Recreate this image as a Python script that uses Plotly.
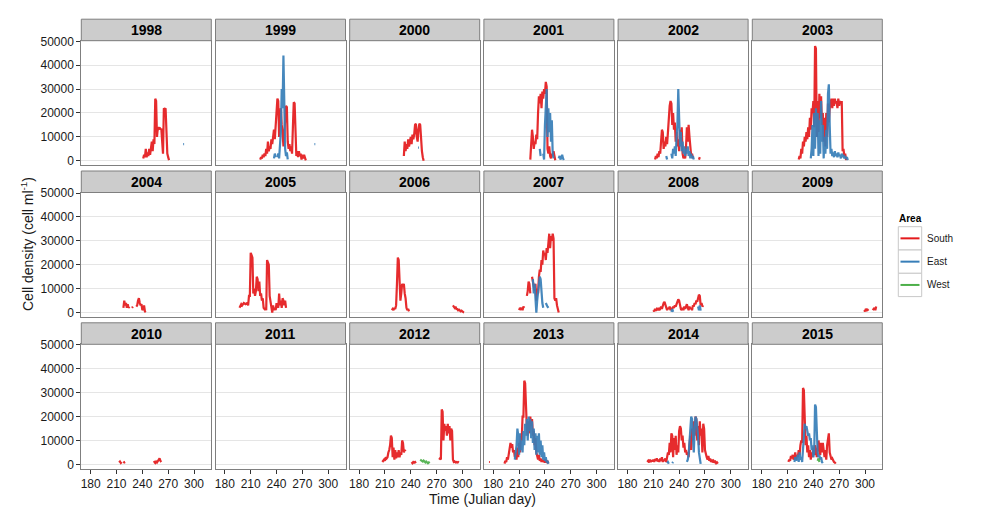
import plotly.graph_objects as go
from plotly.subplots import make_subplots

YEARS = list(range(1998, 2016))
AREAS = ["South", "East", "West"]
COLORS = {"South": "#E41A1C", "East": "#377EB8", "West": "#4DAF4A"}
X_TICKS = [180, 210, 240, 270, 300]
Y_TICKS = [0, 10000, 20000, 30000, 40000, 50000]
Y_TICK_TEXT = ["0", "10000", "20000", "30000", "40000", "50000"]

# ---- data: (Julian day, cells per ml); None = gap ----
SOUTH_1998 = [(241,1000),(242,2500),(243,1500),(244,5000),(245,1500),(246,3500),(247,2000),(248,5000),(249,2500),(250,4500),(251,8000),(252,4000),(253,9000),(254,7000),(255,26000),(256,25000),(257,10000),(258,14000),(259,13500),(260,14000),(261,13000),(262,13500),(263,6000),(264,3000),(265,22000),(266,21500),(267,22000),(268,6000),(269,3000),(270,1500),(271,300)]
EAST_1998 = [(287.5,7000),(288.5,7000)]

SOUTH_1999 = [(221,500),(222,1500),(223,1000),(224,2500),(225,1500),(226,3000),(227,2000),(228,5000),(229,3000),(230,8000),(231,4000),(232,6000),(233,5000),(234,9000),(235,7000),(236,12000),(237,13000),(238,9000),(239,14000),(240,20000),(241,26000),(242,25000),(243,10000),(244,18000),(245,22000),(246,15000),(247,12000),(248,6000),(249,10000),(250,17000),(251,23000),(252,22500),(253,8000),(254,5000),(255,7000),(256,4000),(257,6000),(258,3000),(259,14000),(260,24500),(261,24000),(262,6000),(263,2000),(264,4000),(265,1500),(266,4000),(267,2000),(268,3000),(269,500),(270,2500),(271,1000),(272,2500),(273,800),(274,200)]
EAST_1999 = [(237,1000),(238,3000),(239,1500),None,(241,1500),(242,3000),(243,1000),(244,6000),(245,12000),(246,30000),(247,22000),(248,44000),(249,18000),(250,5000),(251,2000),(252,3500),(253,600),None,(284,7000),(285,7000)]

SOUTH_2000 = [(232,2000),(233,8000),(234,4000),(235,7000),(236,5000),(237,9000),(238,6000),(239,8000),(240,10000),(241,7000),(242,11000),(243,9000),(244,11000),(245,15000),(246,15500),(247,10000),(248,8000),(249,13000),(250,15500),(251,15000),(252,8000),(253,4000),(254,1500),(255,0)]
EAST_2000 = [(248.5,5500),(249.5,5500)]

SOUTH_2001 = [(223,500),(224,5000),(225,13000),(226,10000),(227,5000),(228,8000),(229,7000),(230,11000),(231,9000),(232,20000),(233,27000),(234,24000),(235,28000),(236,22000),(237,29000),(238,26000),(239,30000),(240,28000),(241,33000),(242,31000),(243,5000),(244,3000),(245,6000),(246,2000),(247,1000),(248,3000),(249,2000),(250,4000),(251,1000),(252,200)]
EAST_2001 = [(234,5000),(235,2000),None,(238,3000),(239,500),(240,15000),(241,25000),(242,30000),(243,10000),(244,22000),(245,12000),(246,20000),(247,8000),(248,17000),(249,3000),(250,1000),None,(256,1000),(257,2000),(258,500),(259,1500),(260,2500),(261,1000),(262,300)]

SOUTH_2002 = [(212,500),(213,2000),(214,1000),(215,3000),(216,1500),(217,4000),(218,3000),(219,8000),(220,13000),(221,12000),(222,5000),(223,8000),(224,6000),(225,10000),(226,7000),(227,12000),(228,20000),(229,23000),(230,25000),(231,24000),(232,15000),(233,20000),(234,13000),(235,16000),(236,8000),(237,12000),(238,6000),(239,9000),(240,4000),(241,13000),(242,9000),(243,14000),(244,3000),(245,1000),(246,2000),(247,1000),(248,6000),(249,14000),(250,8000),(251,15000),(252,10000),(253,5000),(254,2000),(255,3000),(256,1000),None,(263,500),(264,1500)]
EAST_2002 = [(225,2000),(226,500),None,(231,3000),(232,1000),(233,5000),(234,3000),(235,6000),(236,2000),(237,10000),(238,15000),(239,30000),(240,20000),(241,6000),(242,12000),(243,4000),(244,8000),(245,3000),(246,6000),(247,2000),(248,5000),(249,3000),(250,6000),(251,2000),(252,4000),(253,1000),(254,3000),(255,1000),(256,2000),(257,500)]

SOUTH_2003 = [(223,500),(224,2000),(225,1000),(226,5000),(227,3000),(228,8000),(229,6000),(230,10000),(231,8000),(232,12000),(233,9000),(234,14000),(235,10000),(236,18000),(237,13000),(238,22000),(239,20000),(240,25000),(241,14000),(242,48000),(243,47000),(244,10000),(245,25000),(246,12000),(247,28000),(248,18000),(249,27000),(250,15000),(251,20000),(252,8000),(253,18000),(254,6000),(255,20000),(256,10000),(257,24000),(258,16000),(259,22000),(260,24000),(261,26000),(262,22000),(263,26000),(264,23000),(265,26000),(266,24000),(267,25000),(268,22000),(269,26000),(270,23000),(271,25000),(272,24000),(273,25000),(274,4000),(275,5000),(276,2000),(277,3000),(278,300)]
EAST_2003 = [(237,1000),(238,5000),(239,15000),(240,2000),(241,20000),(242,5000),(243,22000),(244,10000),(245,20000),(246,2000),(247,17000),(248,3000),(249,25000),(250,8000),(251,15000),(252,1000),(253,10000),(254,3000),(255,13000),(256,5000),(257,28000),(258,32000),(259,15000),(260,3000),(261,5000),(262,2000),(263,3500),(264,1500),(265,4000),(266,2000),(267,3000),(268,1500),(269,3500),(270,2000),(271,2500),(272,1000),(273,3000),(274,1500),(275,2500),(276,1000),(277,2000),(278,800),(279,1500),(280,300)]

SOUTH_2004 = [(218,2000),(219,5000),(220,3000),(221,4000),(222,2000),(223,3500),(224,2000),(225,2500),None,(228,2000),(229,2500),None,(233,2500),(234,3000),(235,5000),(236,6000),(237,4000),(238,3000),(239,3500),(240,1000),(241,1500),(242,3000),(243,500),(244,200)]

SOUTH_2005 = [(197,2000),(199,3500),(200,3000),(202,4000),(204,3500),(206,4000),(207,3000),(208,7000),(209,7000),(210,25000),(211,24000),(212,23000),(213,8000),(214,10000),(215,7000),(216,9000),(217,15000),(218,14000),(219,9000),(220,13000),(221,7000),(222,8000),(223,5000),(224,6000),(225,2000),(226,1500),(227,2000),(228,1000),(229,22000),(230,21000),(231,20000),(232,7000),(233,5000),(234,2000),(235,0),(236,3000),(237,1000),(238,2000),(239,1000),(240,4000),(241,3000),(242,2000),(243,8000),(244,3000),(245,5000),(246,2000),(247,6000),(248,5000),(249,3000),(250,5000),(251,2000)]

SOUTH_2006 = [(218,1000),(219,1500),(220,1000),(221,2000),(222,1500),(223,3000),(224,12000),(225,23000),(226,22000),(227,10000),(228,5000),(229,8000),(230,12000),(231,11000),(232,12000),(233,8000),(234,6000),(235,2000),(236,1000),(237,1500),(238,500),None,(289,3000),(290,2500),(291,2000),(292,2500),(293,1500),(294,1500),(295,1000),(296,1200),(297,800),(298,500),(299,800),(300,300),(301,200),(302,100)]

SOUTH_2007 = [(210,1000),(211,2000),(212,1500),(213,2000),(214,1000),(215,2500),(216,2000),None,(219,7000),(220,9000),(221,13000),(222,12000),(223,8000),None,(225,15000),(226,13000),(227,11000),(228,9000),(229,12000),(230,5000),(231,10000),(232,8000),(233,15000),(234,18000),(235,17000),(236,22000),(237,20000),(238,26000),(239,24000),(240,25000),(241,22000),(242,27000),(243,25000),(244,30000),(245,33000),(246,27000),(247,32000),(248,30000),(249,33000),(250,31000),(251,6000),(252,5000),(253,6000),(254,3000),(255,1000),(256,0)]
EAST_2007 = [(226,14000),(227,8000),(228,12000),(229,3000),(230,0),(231,5000),(232,8000),(233,10000),(234,15000),(235,14000),(236,7000),(237,4000),(238,2000),None,(241,4000),(242,3000),(243,2500),(244,2000)]

SOUTH_2008 = [(210,1000),(211,500),(212,1500),(213,800),(214,1500),(215,1000),(216,2000),(217,1000),(218,1500),(219,2500),(220,1500),(221,3000),(222,4000),(223,4500),(224,3000),(225,2000),(226,1000),(227,2000),(228,1500),(229,2500),(230,1000),(231,2000),(232,1500),(233,2500),(234,2000),(235,3000),(236,2500),(237,3500),(238,4500),(239,5500),(240,5000),(241,3000),(242,1500),(243,1000),(244,2000),(245,1000),(246,2500),(247,1500),(248,3000),(249,3500),(250,2000),(251,1000),(252,2500),(253,1500),(254,2000),(255,1000),(256,3000),(257,2500),(258,4000),(259,3500),(260,5000),(261,4500),(262,6000),(263,7500),(264,7000),(265,3000),(266,4000),(267,2500),(268,3000)]
EAST_2008 = [(231,300),(232,1500),(233,300),None,(262,2500),(263,1000),(264,3000),(265,800)]

SOUTH_2009 = [(299,1000),(300,500),(301,1500),(302,1000),(303,1200),(304,800),None,(309,1000),(310,1500),(311,2000),(312,1000),(313,2500)]

SOUTH_2010 = [(213,800),(214,1200),(215,600),(216,1000),None,(218,1200),(219,800),(220,1000),None,(253,800),(254,1000),(255,600),(256,1200),(257,800),(258,1500),(259,2000),(260,2500),(261,1500),(262,1000)]

SOUTH_2012 = [(207,1000),(208,1500),(209,2000),(210,1500),(211,3000),(212,2500),(213,3000),(214,5000),(215,6000),(216,8000),(217,12000),(218,11000),(219,3000),(220,7000),(221,2000),(222,6000),(223,2500),(224,5000),(225,3000),(226,6000),(227,3000),(228,5000),(229,4000),(230,10000),(231,9000),(232,5000),(233,6000),(234,5500),None,(241,1000),(242,500),(243,1000),(244,800),(245,1000),(246,500),None,(273,2000),(274,2500),(275,2000),(276,23000),(277,22000),(278,10000),(279,17000),(280,14000),(281,16000),(282,12000),(283,17000),(284,13000),(285,16000),(286,10000),(287,15000),(288,14000),(289,2000),(290,1000),(291,1200),(292,800),(293,1000),(294,800),(295,1000),(296,800)]
WEST_2012 = [(251,2000),(252,1800),(253,1500),(254,1200),(255,1600),(256,1000),(257,800),(258,1200),(259,700),(260,500),(261,800),(262,500)]

SOUTH_2013 = [(175,1000),(176,1000),None,(193,300),(194,1500),(195,1000),(196,3000),(197,2000),(198,5000),(199,8000),(200,9000),(201,7000),(202,8500),(203,5000),(204,6000),(205,3000),(206,5000),(207,2000),(208,7000),(209,3000),(210,9000),(211,5000),(212,12000),(213,10000),(214,20000),(215,20000),(216,35000),(217,34000),(218,22000),(219,15000),(220,12000),(221,18000),(222,13000),(223,20000),(224,16000),(225,19000),(226,12000),(227,14000),(228,8000),(229,11000),(230,5000),(231,3000),(232,2000),(233,4000),(234,1500),(235,2500),(236,1000),(237,2000),(238,1000),(239,1500),(240,800),(241,1500),(242,1000),(243,1200),(244,500)]
EAST_2013 = [(205,2000),(206,5000),(207,8000),(208,15000),(209,12000),(210,4000),(211,13000),(212,6000),(213,10000),(214,5000),(215,14000),(216,8000),(217,17000),(218,12000),(219,19000),(220,10000),(221,20000),(222,14000),(223,19000),(224,11000),(225,18000),(226,9000),(227,15000),(228,6000),(229,13000),(230,4000),(231,12000),(232,5000),(233,13000),(234,4000),(235,10000),(236,3000),(237,8000),(238,2000),(239,5000),(240,1500),(241,3000),(242,800),(243,1500),(244,200)]

SOUTH_2014 = [(203,1000),(204,1500),(205,800),(206,2000),(207,1000),(208,1800),(209,1200),(210,2000),(211,1000),(212,2200),(213,1500),(214,2500),(215,1200),(216,2000),(217,1000),(218,2500),(219,1500),(220,3000),(221,1000),(222,2000),(223,1500),(224,2500),(225,1000),(226,3000),(227,5000),(228,4000),(229,9000),(230,5000),(231,13000),(232,12000),(233,3000),(234,11000),(235,6000),(236,12000),(237,4000),(238,8000),(239,5000),(240,14000),(241,16000),(242,15000),(243,10000),(244,12000),(245,7000),(246,9000),(247,5000),(248,6000),(249,4000),(250,5000),(251,3000),(252,8000),(253,12000),(254,6000),(255,15000),(256,10000),(257,18000),(258,12000),(259,20000),(260,19000),(261,10000),(262,16000),(263,8000),(264,18000),(265,12000),(266,15000),(267,5000),(268,17000),(269,15000),(270,6000),(271,4000),(272,3000),(273,2000),(274,3500),(275,1500),(276,2500),(277,1000),(278,2000),(279,800),(280,1500),(281,1000),(282,1200),(283,500),(284,800),(285,300)]
EAST_2014 = [(226,500),(227,1000),(228,300),None,(232,500),(233,1000),None,(249,1000),(250,2000),(251,4000),(252,10000),(253,15000),(254,20000),(255,19000),(256,8000),(257,5000),(258,14000),(259,20000),(260,19000),(261,16000),(262,12000),(263,5000),(264,1000),(265,200)]

SOUTH_2015 = [(211,1000),(212,2000),(213,1500),(214,3500),(215,2500),(216,4000),(217,2000),(218,3000),(219,5000),(220,2000),(221,4000),(222,3000),(223,6000),(224,4000),(225,8000),(226,10000),(227,9000),(228,32000),(229,31000),(230,15000),(231,8000),(232,12000),(233,5000),(234,8000),(235,3000),(236,6000),(237,2000),(238,5000),(239,3000),(240,7000),(241,4000),(242,8000),(243,5000),(244,3000),(245,6000),(246,10000),(247,7000),(248,4000),(249,9000),(250,5000),(251,9000),(252,4000),(253,3000),(254,6000),(255,2000),(256,8000),(257,12000),(258,13000),(259,5000),(260,3000),(261,2000),(262,2500),(263,1500),(264,1000),(265,800),(266,300)]
EAST_2015 = [(218,1000),(219,3000),(220,1500),(221,2500),(222,4000),(223,1000),(224,5000),(225,2000),(226,3000),(227,1000),(228,8000),(229,12000),(230,17000),(231,15000),(232,16000),(233,14000),(234,12000),(235,13000),(236,10000),(237,11000),(238,6000),(239,8000),(240,3000),(241,5000),(242,25000),(243,24000),(244,10000),(245,5000),(246,3000),(247,4000),(248,2000),(249,3000),(250,1000),(251,500)]
WEST_2015 = [(245,1500),(246,2500),(247,1000)]

# table built from the named lists
SERIES = {
    ("South", 1998): SOUTH_1998, ("East", 1998): EAST_1998,
    ("South", 1999): SOUTH_1999, ("East", 1999): EAST_1999,
    ("South", 2000): SOUTH_2000, ("East", 2000): EAST_2000,
    ("South", 2001): SOUTH_2001, ("East", 2001): EAST_2001,
    ("South", 2002): SOUTH_2002, ("East", 2002): EAST_2002,
    ("South", 2003): SOUTH_2003, ("East", 2003): EAST_2003,
    ("South", 2004): SOUTH_2004,
    ("South", 2005): SOUTH_2005,
    ("South", 2006): SOUTH_2006,
    ("South", 2007): SOUTH_2007, ("East", 2007): EAST_2007,
    ("South", 2008): SOUTH_2008, ("East", 2008): EAST_2008,
    ("South", 2009): SOUTH_2009,
    ("South", 2010): SOUTH_2010,
    ("South", 2012): SOUTH_2012, ("West", 2012): WEST_2012,
    ("South", 2013): SOUTH_2013, ("East", 2013): EAST_2013,
    ("South", 2014): SOUTH_2014, ("East", 2014): EAST_2014,
    ("South", 2015): SOUTH_2015, ("East", 2015): EAST_2015, ("West", 2015): WEST_2015,
}

# The page body has an 8 px default margin, so the figure is drawn 8 px in from the
# window's top-left corner; all layout positions below are given in window pixels.
OFF = 8
W, H = 980, 504
FONT = "Liberation Sans, Arial, sans-serif"
TXT = "#1a1a1a"


def px(x):
    return (x - OFF) / W


def py(y):
    return 1 - (y - OFF) / H


fig = make_subplots(rows=3, cols=6, horizontal_spacing=0.005, vertical_spacing=0.05)

COL_LEFT0, COL_PITCH, PANEL_W = 81.3, 134.2, 130.0
ROW_TOP0, ROW_PITCH, PANEL_H, STRIP_H = 40.7, 151.8, 124.5, 21.5

shapes, annotations = [], []

for i, yr in enumerate(YEARS):
    r, c = i // 6, i % 6
    left = COL_LEFT0 + c * COL_PITCH
    top = ROW_TOP0 + r * ROW_PITCH
    bottom = top + PANEL_H
    # strip
    shapes.append(dict(type="rect", xref="paper", yref="paper",
                       x0=px(left), x1=px(left + PANEL_W),
                       y0=py(top), y1=py(top - STRIP_H),
                       fillcolor="#CCCCCC", line=dict(color="#7F7F7F", width=1), layer="above"))
    annotations.append(dict(text="<b>%d</b>" % yr, xref="paper", yref="paper",
                            x=px(left + PANEL_W / 2), y=py(top - STRIP_H / 2),
                            showarrow=False, font=dict(size=14, color="#000", family=FONT),
                            xanchor="center", yanchor="middle"))
    has_data = False
    for area in AREAS:
        pts = SERIES.get((area, yr))
        if not pts:
            continue
        has_data = True
        xs = [p[0] if p else None for p in pts]
        ys = [p[1] if p else None for p in pts]
        fig.add_trace(go.Scatter(x=xs, y=ys, mode="lines", showlegend=False,
                                 line=dict(color=COLORS[area], width=2.2), opacity=0.92,
                                 hoverinfo="skip"),
                      row=r + 1, col=c + 1)
    if not has_data:
        # empty panel (no observations that year) still needs its axes drawn
        fig.add_trace(go.Scatter(x=[None], y=[None], mode="lines", showlegend=False,
                                 hoverinfo="skip"), row=r + 1, col=c + 1)
    fig.update_xaxes(domain=[px(left), px(left + PANEL_W)],
                     range=[169.1, 320.1], tickvals=X_TICKS, showgrid=False, zeroline=False,
                     showline=True, mirror=True, linecolor="#7F7F7F", linewidth=1,
                     showticklabels=(r == 2), ticks="outside" if r == 2 else "",
                     ticklen=4, tickcolor="#333333", automargin=False,
                     tickfont=dict(size=12, color=TXT, family=FONT),
                     row=r + 1, col=c + 1)
    fig.update_yaxes(domain=[py(bottom), py(top)],
                     range=[-1850, 50250], tickvals=Y_TICKS, ticktext=Y_TICK_TEXT,
                     showgrid=True, gridcolor="#E5E5E5",
                     gridwidth=1, zeroline=False,
                     showline=True, mirror=True, linecolor="#7F7F7F", linewidth=1,
                     showticklabels=(c == 0), ticks="outside" if c == 0 else "",
                     ticklen=4, tickcolor="#333333", automargin=False,
                     tickfont=dict(size=12, color=TXT, family=FONT),
                     row=r + 1, col=c + 1)

# axis titles
annotations.append(dict(text="Time (Julian day)", xref="paper", yref="paper",
                        x=px(482), y=py(499), showarrow=False,
                        xanchor="center", yanchor="middle",
                        font=dict(size=14, color=TXT, family=FONT)))
annotations.append(dict(text="Cell density (cell ml<sup>-1</sup>)", xref="paper", yref="paper",
                        x=px(27), y=py(244), showarrow=False, textangle=-90,
                        xanchor="center", yanchor="middle",
                        font=dict(size=14, color=TXT, family=FONT)))

# legend
annotations.append(dict(text="<b>Area</b>", xref="paper", yref="paper", x=px(897), y=py(218),
                        showarrow=False, xanchor="left", yanchor="middle",
                        font=dict(size=10, color="#000", family=FONT)))
for k, area in enumerate(AREAS):
    y0 = 226.7 + k * 23.3
    shapes.append(dict(type="rect", xref="paper", yref="paper",
                       x0=px(898.3), x1=px(921.7), y0=py(y0 + 23.3), y1=py(y0),
                       fillcolor="white", line=dict(color="#C8C8C8", width=1)))
    shapes.append(dict(type="line", xref="paper", yref="paper",
                       x0=px(900.5), x1=px(919.5), y0=py(y0 + 11.65), y1=py(y0 + 11.65),
                       line=dict(color=COLORS[area], width=2)))
    annotations.append(dict(text=area, xref="paper", yref="paper", x=px(924.5), y=py(y0 + 11.65),
                            showarrow=False, xanchor="left", yanchor="middle",
                            font=dict(size=10, color=TXT, family=FONT)))

fig.update_layout(width=W, height=H, margin=dict(l=0, r=0, t=0, b=0),
                  paper_bgcolor="white", plot_bgcolor="white",
                  shapes=shapes, annotations=annotations, showlegend=False,
                  font=dict(family=FONT))

fig.write_html("out.html")
